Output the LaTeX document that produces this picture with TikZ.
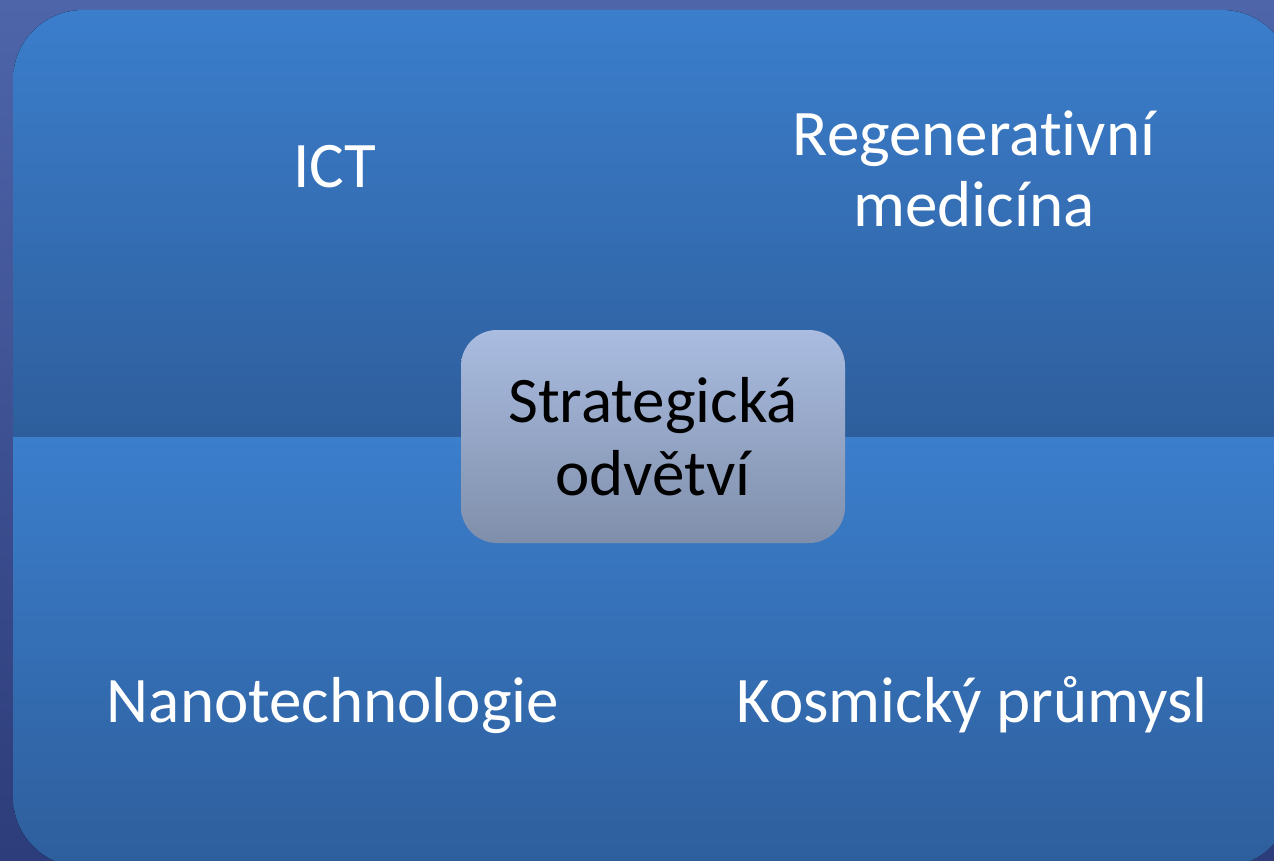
\documentclass[tikz,border=0pt]{standalone}
\usepackage{fontspec}
\setmainfont{Carlito}[RawFeature={-liga;-clig;-dlig}]
\definecolor{bgtop}{HTML}{4E65AA}
\definecolor{bgbot}{HTML}{2D3C7A}
\definecolor{qtop}{HTML}{3B7ECC}
\definecolor{qbot}{HTML}{2E5E9C}
\definecolor{ctop}{HTML}{AABCE0}
\definecolor{cbot}{HTML}{7F8FAB}
\tikzset{
  quadtext/.style={text=white, font=\fontsize{65}{71}\selectfont, align=center, inner sep=0pt, anchor=base},
  centerbox/.style={rounded corners=36pt, top color=ctop, bottom color=cbot, minimum width=384pt, minimum height=213pt, inner sep=0pt, font=\fontsize{65}{73}\selectfont, align=center, text=black}
}
\begin{document}
\begin{tikzpicture}[x=1pt,y=-1pt]
\useasboundingbox (0,0) rectangle (1274,861);
\clip (0,0) rectangle (1274,861);
\fill[top color=bgtop, bottom color=bgbot] (0,0) rectangle (1274,861);
\begin{scope}
  \clip[rounded corners=70pt] (13,10) rectangle (1292,867);
  \fill[top color=qtop, bottom color=qbot] (13,10) rectangle (1292,437);
  \fill[top color=qtop, bottom color=qbot] (13,437) rectangle (1292,867);
\end{scope}
\node[quadtext] (ict) at (335,188) {ICT};
\node[quadtext] (regen) at (974,226) {Regenerativní\\medicína};
\node[quadtext] (nano) at (333,722) {Nanotechnologie};
\node[quadtext] (kosm) at (972,722) {Kosmický průmysl};
\node[centerbox] (center) at (653,436.5) {Strategická\\odvětví};
\end{tikzpicture}
\end{document}
